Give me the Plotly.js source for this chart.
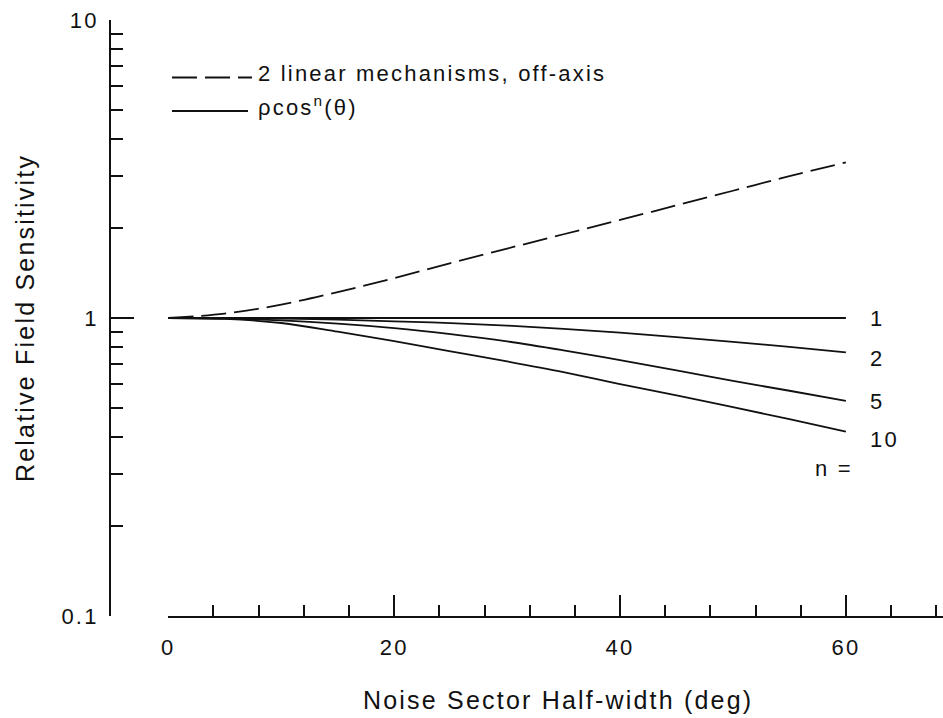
<!DOCTYPE html>
<html>
<head>
<meta charset="utf-8">
<script src="https://cdn.plot.ly/plotly-3.0.1.min.js"></script>
<style>
  html, body { margin: 0; padding: 0; background: #fff; }
  #plot { width: 943px; height: 718px; }
  svg text { letter-spacing: 2.2px; }
</style>
</head>
<body>
<div id="plot"></div>
<script>
// Noise sector half-width (deg)
const angles = [0, 5, 10, 15, 20, 25, 30, 35, 40, 45, 50, 55, 60];
// 2 linear mechanisms, off-axis
const offAxis = [1.0, 1.035, 1.109, 1.222, 1.361, 1.528, 1.71, 1.91, 2.133, 2.388, 2.673, 2.992, 3.327];
// rho cos^n(theta) curves
const cosN1 = [1, 1, 1, 1, 1, 1, 1, 1, 1, 1, 1, 1, 1];
const cosN2 = [1, 0.999, 0.995, 0.987, 0.975, 0.961, 0.943, 0.92, 0.893, 0.863, 0.832, 0.80, 0.767];
const cosN5 = [1, 0.996, 0.982, 0.958, 0.925, 0.883, 0.835, 0.779, 0.722, 0.667, 0.615, 0.570, 0.527];
const cosN10 = [1, 0.993, 0.962, 0.90, 0.836, 0.773, 0.715, 0.658, 0.60, 0.55, 0.502, 0.458, 0.416];
const curveLabels = ['1', '2', '5', '10'];
const xTickVals = [0, 20, 40, 60];
const xMinorVals = [4, 8, 12, 16, 24, 28, 32, 36, 44, 48, 52, 56, 64, 68];
const yTickVals = [0.1, 1, 10];
const yTickText = ['0.1', '1', '10'];
const yMinorVals = [0.2, 0.3, 0.4, 0.5, 0.6, 0.7, 0.8, 0.9, 2, 3, 4, 5, 6, 7, 8, 9];

const FONT = 'Liberation Sans, Arial, Helvetica, sans-serif';
const INK = '#111';

const solid = {color: INK, width: 1.8, shape: 'spline', smoothing: 1};
const traces = [
  {x: angles, y: offAxis, mode: 'lines', line: {color: INK, width: 1.8, dash: '25px,8px', shape: 'spline', smoothing: 1}, showlegend: false},
  {x: angles, y: cosN1, mode: 'lines', line: solid, showlegend: false},
  {x: angles, y: cosN2, mode: 'lines', line: solid, showlegend: false},
  {x: angles, y: cosN5, mode: 'lines', line: solid, showlegend: false},
  {x: angles, y: cosN10, mode: 'lines', line: solid, showlegend: false}
];

// pixel helpers for the decorations (legend samples and text)
const L = 110, T = 20, W = 833, H = 596;
const px = v => (v - L) / W;
const py = v => (T + H - v) / H;

const labelY = [318, 359, 401, 439];
const annotations = curveLabels.map((t, i) => ({
  text: t, xref: 'paper', yref: 'paper', x: px(868), y: py(labelY[i]),
  xanchor: 'left', yanchor: 'middle', showarrow: false,
  font: {family: FONT, size: 22, color: INK}
}));
annotations.push(
  {text: 'n =', xref: 'paper', yref: 'paper', x: px(855), y: py(468),
   xanchor: 'right', yanchor: 'middle', showarrow: false, font: {family: FONT, size: 22, color: INK}},
  {text: '2 linear mechanisms, off-axis', xref: 'paper', yref: 'paper', x: px(256), y: py(73),
   xanchor: 'left', yanchor: 'middle', showarrow: false, font: {family: FONT, size: 22, color: INK}},
  {text: 'ρcos<sup>n</sup>(θ)', xref: 'paper', yref: 'paper', x: px(256), y: py(106),
   xanchor: 'left', yanchor: 'middle', showarrow: false, font: {family: FONT, size: 22, color: INK}},
  {text: 'Noise Sector Half-width (deg)', xref: 'paper', yref: 'paper', x: px(558), y: py(700),
   xanchor: 'center', yanchor: 'middle', showarrow: false, font: {family: FONT, size: 25, color: INK}},
  {text: 'Relative Field Sensitivity', xref: 'paper', yref: 'paper', x: px(25), y: py(318),
   xanchor: 'center', yanchor: 'middle', textangle: -90, showarrow: false, font: {family: FONT, size: 25, color: INK}}
);

const shapes = [
  {type: 'line', xref: 'paper', yref: 'paper', x0: px(172), x1: px(252), y0: py(77.5), y1: py(77.5),
   line: {color: INK, width: 1.8, dash: '25px,8px'}},
  {type: 'line', xref: 'paper', yref: 'paper', x0: px(172), x1: px(248), y0: py(111), y1: py(111),
   line: {color: INK, width: 1.8}}
];

const layout = {
  width: 943, height: 718,
  margin: {l: L, r: 0, t: T, b: 718 - T - H, pad: 0},
  paper_bgcolor: '#fff', plot_bgcolor: '#fff',
  showlegend: false,
  font: {family: FONT, color: INK},
  xaxis: {
    domain: [px(168.3) , 1], range: [0, 68.6], anchor: 'y',
    showline: true, linecolor: INK, linewidth: 2,
    showgrid: false, zeroline: false,
    tickmode: 'array', tickvals: xTickVals, ticktext: xTickVals.map(String),
    ticks: 'inside', ticklen: 21, tickwidth: 2, tickcolor: INK,
    minor: {tickmode: 'array', tickvals: xMinorVals, ticks: 'inside', ticklen: 11, tickwidth: 2, tickcolor: INK, showgrid: false},
    tickfont: {family: FONT, size: 22, color: INK},
    ticklabelstandoff: 11,
    automargin: false
  },
  yaxis: {
    type: 'log', range: [-1, 1], anchor: 'free', position: 0,
    showline: true, linecolor: INK, linewidth: 2,
    showgrid: false, zeroline: false,
    tickmode: 'array', tickvals: yTickVals, ticktext: yTickText,
    ticks: 'inside', ticklen: 23, tickwidth: 2, tickcolor: INK,
    minor: {tickmode: 'array', tickvals: yMinorVals, ticks: 'inside', ticklen: 12, tickwidth: 2, tickcolor: INK, showgrid: false},
    tickfont: {family: FONT, size: 22, color: INK},
    ticklabelstandoff: 6,
    automargin: false
  },
  annotations: annotations,
  shapes: shapes
};

Plotly.newPlot('plot', traces, layout, {staticPlot: true, displayModeBar: false});
</script>
</body>
</html>
